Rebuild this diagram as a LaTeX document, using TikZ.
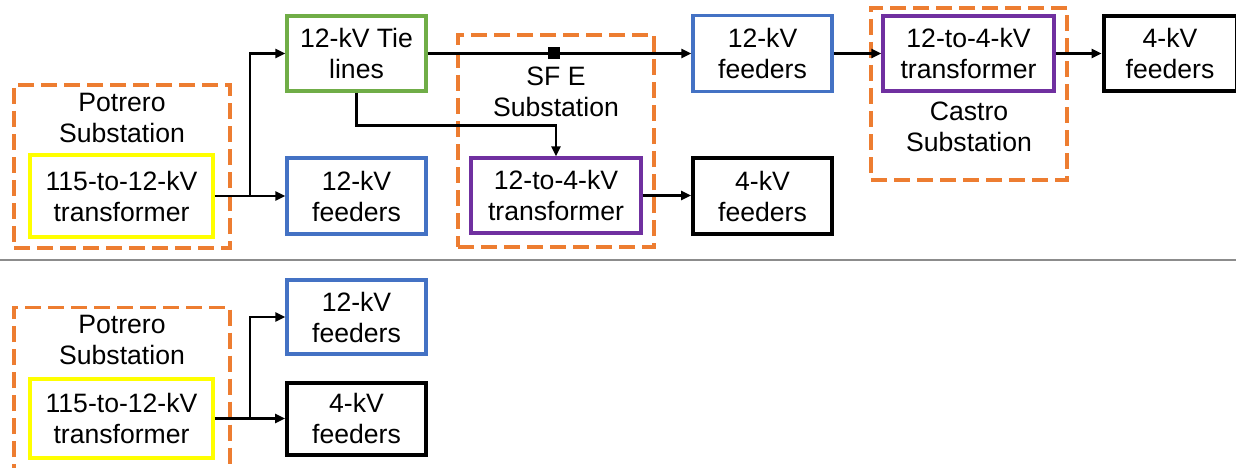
\documentclass[tikz,border=0pt]{standalone}
\usepackage{fontspec}
\setmainfont{Liberation Sans}
\usetikzlibrary{arrows.meta}
\definecolor{corange}{HTML}{ED7D31}
\definecolor{cyellow}{HTML}{FFFF00}
\definecolor{cgreen}{HTML}{70AD47}
\definecolor{cblue}{HTML}{4472C4}
\definecolor{cpurple}{HTML}{7030A0}
\definecolor{csep}{HTML}{8C8C8C}
\newcommand\diafont{\fontsize{26.6}{31}\selectfont}
\begin{document}
\begin{tikzpicture}[x=1pt,y=-1pt,
  box/.style={draw, rectangle, line width=3.4pt, inner sep=0pt, align=center, font=\diafont},
  sz/.style 2 args={minimum width=#1pt, minimum height=#2pt},
  yel/.style={box, draw=cyellow, line width=3.6pt},
  grn/.style={box, draw=cgreen},
  blu/.style={box, draw=cblue},
  pur/.style={box, draw=cpurple},
  blk/.style={box, draw=black, line width=4pt},
  subst/.style={draw=corange, line width=3.4pt, dash pattern=on 16pt off 7pt, rectangle, inner sep=0pt},
  lab/.style={inner sep=0pt, align=center, font=\diafont},
  arr/.style={line width=2.4pt, -{Triangle[length=10pt,width=9pt]}},
  ln/.style={line width=2.4pt}
]
\clip (0,0) rectangle (1236,468);
\fill[white] (0,0) rectangle (1236,468);

% separator
\draw[line width=2pt, csep] (0,259.5) -- (1236,259.5);

% ---- top part ----
\node[subst, sz={216}{163}] (pot1) at (122,166.5) {};
\node[lab, anchor=north] (pot1lab) at (122,92.5) {Potrero\\Substation};
\node[yel, sz={183}{82}] (yel1) at (121.5,196) {115-to-12-kV\\transformer};

\node[grn, sz={139}{75}] (tie) at (356.5,53.5) {12-kV Tie\\lines};
\node[blu, sz={139}{76}] (f12a) at (356.5,196) {12-kV\\feeders};

\node[subst, sz={196}{212}] (sfe) at (556,141) {};
\node[lab, anchor=north] (sfelab) at (556,66.5) {SF E\\Substation};
\node[pur, sz={170}{75}] (pur1) at (556,195.5) {12-to-4-kV\\transformer};
\node[blk, sz={139}{76}] (f4a) at (762.5,196) {4-kV\\feeders};

\node[blu, sz={139}{76}] (f12b) at (762.5,53.5) {12-kV\\feeders};
\node[subst, sz={196}{172}] (cas) at (969,94) {};
\node[pur, sz={171}{75}] (pur2) at (968.5,53.5) {12-to-4-kV\\transformer};
\node[lab, anchor=north] (caslab) at (969,101.5) {Castro\\Substation};
\node[blk, sz={133}{75}] (f4b) at (1170,53.5) {4-kV\\feeders};

% connectors top
\coordinate (j1) at (250,196);
\draw[arr] (yel1.east) -- (f12a.west);
\draw[arr] (j1) |- (tie.west);
\draw[arr] (tie.east) -- (tie.east -| f12b.west);
\node[fill=black, inner sep=0pt, minimum size=12pt] (sw) at (554,53.5) {};
\coordinate (j2) at (356.5,125.7);
\draw[arr] (tie.south) -- (j2) -| (pur1.north);
\draw[arr] (pur1.east) -- (pur1.east -| f4a.west);
\draw[arr] (f12b.east) -- (f12b.east -| pur2.west);
\draw[arr] (pur2.east) -- (pur2.east -| f4b.west);

% ---- bottom part ----
\draw[draw=corange, line width=3.4pt, dash pattern=on 16pt off 7pt] (14,480) -- (14,307.3) -- (230,307.3) -- (230,480);
\node[lab, anchor=north] (pot2lab) at (122,315) {Potrero\\Substation};
\node[yel, sz={183}{79}] (yel2) at (121.5,418.5) {115-to-12-kV\\transformer};
\node[blu, sz={139}{74}] (f12c) at (356.5,317) {12-kV\\feeders};
\node[blk, sz={139}{72}] (f4c) at (356.5,418.5) {4-kV\\feeders};
\coordinate (j3) at (250,418.5);
\draw[arr] (yel2.east) -- (f4c.west);
\draw[arr] (j3) |- (f12c.west);
\end{tikzpicture}
\end{document}
